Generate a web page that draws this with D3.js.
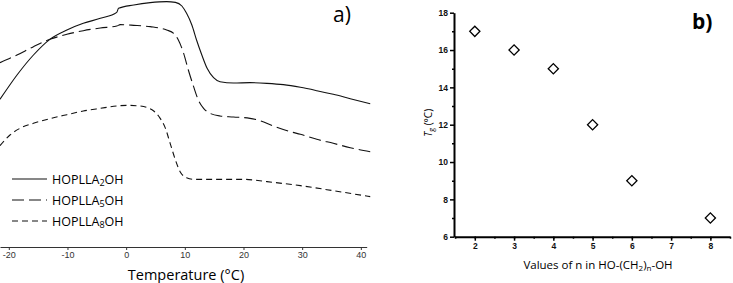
<!DOCTYPE html>
<html>
<head>
<meta charset="utf-8">
<script src="https://cdn.jsdelivr.net/npm/d3@7"></script>
<style>
  body { margin: 0; background: #fff; }
  svg { display: block; font-family: "Open Sans", sans-serif; }
</style>
</head>
<body>
<div id="chart"></div>
<script>
// Panel a: DSC traces (temperature in °C, heat flow in arbitrary units)
const tempA2 = [-21.5, -18.6, -15.8, -13.0, -10.1, -7.3, -4.4, -1.6, -1.3, 1.3, 4.1, 6.9, 8.4, 9.5, 10.3, 11.2, 12.0, 12.9, 13.8, 14.9, 16.0, 18.3, 21.1, 24.0, 26.8, 29.7, 32.5, 35.3, 38.2, 41.6]
const flowA2 = [3.02, 3.75, 4.35, 4.82, 5.10, 5.30, 5.45, 5.63, 5.75, 5.85, 5.92, 5.95, 5.93, 5.82, 5.60, 5.25, 4.80, 4.35, 3.95, 3.67, 3.55, 3.51, 3.52, 3.50, 3.46, 3.38, 3.28, 3.17, 3.04, 2.89]

const tempA5 = [-21.5, -18.6, -15.8, -13.0, -10.1, -7.3, -4.4, -1.6, -1.0, 1.3, 4.1, 6.9, 8.1, 8.9, 9.8, 10.6, 11.5, 12.3, 13.2, 14.3, 16.0, 18.3, 21.1, 22.8, 25.1, 28.0, 29.7, 32.5, 35.3, 38.2, 41.6]
const flowA5 = [4.12, 4.35, 4.60, 4.82, 4.97, 5.08, 5.16, 5.22, 5.26, 5.24, 5.20, 5.10, 5.00, 4.80, 4.40, 3.90, 3.40, 3.00, 2.75, 2.60, 2.52, 2.49, 2.45, 2.38, 2.22, 2.05, 1.97, 1.82, 1.70, 1.57, 1.45]

const tempA8 = [-21.5, -19.8, -18.1, -15.8, -13.0, -10.1, -7.3, -4.4, -1.6, 0.1, 2.4, 3.5, 4.7, 5.8, 6.7, 7.5, 8.4, 9.2, 10.3, 11.5, 15.5, 20.0, 24.0, 29.7, 35.3, 41.6]
const flowA8 = [1.63, 1.95, 2.15, 2.30, 2.44, 2.56, 2.67, 2.75, 2.82, 2.84, 2.82, 2.78, 2.67, 2.45, 2.15, 1.70, 1.20, 0.85, 0.67, 0.62, 0.62, 0.62, 0.55, 0.43, 0.28, 0.10]

const seriesNames = ["HOPLLA", "OH"]
const seriesSubs = ["2", "5", "8"]
const tempTicks = [-20, -10, 0, 10, 20, 30, 40]

// Panel b: Tg versus n
const nValues = [2, 3, 4, 5, 6, 8]
const tgValues = [17, 16, 15, 12, 9, 7]
const nTicks = [2, 3, 4, 5, 6, 7, 8]
const tgTicks = [6, 8, 10, 12, 14, 16, 18]

const width = 733, height = 283
const svg = d3.select("#chart").append("svg")
  .attr("width", width)
  .attr("height", height)

// ---------- Panel a ----------
const xA = d3.scaleLinear().domain([-21.5, 41]).range([0, 366.7])
const yA = d3.scaleLinear().domain([0, 6]).range([200, 0])
const gA = svg.append("g")

const axisA = gA.append("g")
  .attr("transform", "translate(0,247)")
  .call(d3.axisBottom(xA).tickValues(tempTicks).tickSize(3).tickPadding(2).tickSizeOuter(0))
axisA.select(".domain").attr("stroke", "#333")
axisA.selectAll(".tick line").attr("stroke", "#333")
axisA.selectAll("text").attr("font-size", 9).attr("fill", "#333")
  .attr("font-family", "Liberation Sans, Arial, sans-serif")
  .text(d => d)

gA.append("text")
  .attr("x", xA(10.2)).attr("y", 280)
  .attr("text-anchor", "middle")
  .attr("font-size", 14.5)
  .text("Temperature (°C)")

gA.append("text")
  .attr("x", 333).attr("y", 22)
  .attr("font-size", 21)
  .text("a)")

const lineA = d3.line().x(d => xA(d[0])).y(d => yA(d[1])).curve(d3.curveMonotoneX)
const traces = [
  { t: tempA2, f: flowA2, dash: null },
  { t: tempA5, f: flowA5, dash: "12,5" },
  { t: tempA8, f: flowA8, dash: "6,4" }
]
gA.selectAll("path.trace")
  .data(traces)
  .join("path")
  .attr("class", "trace")
  .attr("d", d => lineA(d.t.map((t, i) => [t, d.f[i]])))
  .attr("fill", "none")
  .attr("stroke", "#111")
  .attr("stroke-width", 1.1)
  .attr("stroke-dasharray", d => d.dash)

// legend
const legend = gA.append("g")
traces.forEach((d, i) => {
  const y = 179 + i * 21
  legend.append("line")
    .attr("x1", 12).attr("x2", 47).attr("y1", y).attr("y2", y)
    .attr("stroke", "#111").attr("stroke-width", 1.1)
    .attr("stroke-dasharray", d.dash)
  const txt = legend.append("text")
    .attr("x", 52).attr("y", y + 5)
    .attr("font-size", 12.5)
  txt.append("tspan").text(seriesNames[0])
  txt.append("tspan").attr("font-size", 9).attr("dy", 1.5).text(seriesSubs[i])
  txt.append("tspan").attr("dy", -1.5).text(seriesNames[1])
})

// ---------- Panel b ----------
const xB = d3.scaleLinear().domain([1.47, 8.5]).range([454, 730])
const yB = d3.scaleLinear().domain([6, 18]).range([236.7, 12.7])
const gB = svg.append("g")

// minor ticks
gB.append("g")
  .attr("transform", `translate(0,${yB(6)})`)
  .call(d3.axisBottom(xB).tickValues(d3.range(1.5, 8.6, 0.5)).tickSize(2).tickFormat("").tickSizeOuter(0))
  .call(g => g.select(".domain").remove())
  .selectAll("line").attr("stroke-width", 1.5)
gB.append("g")
  .attr("transform", `translate(${xB(1.47)},0)`)
  .call(d3.axisLeft(yB).tickValues(d3.range(7, 18, 2)).tickSize(2).tickFormat("").tickSizeOuter(0))
  .call(g => g.select(".domain").remove())
  .selectAll("line").attr("stroke-width", 1.5)

const axB = gB.append("g")
  .attr("transform", `translate(0,${yB(6)})`)
  .call(d3.axisBottom(xB).tickValues(nTicks).tickFormat(d3.format("d")).tickSize(4).tickPadding(2).tickSizeOuter(0))
const ayB = gB.append("g")
  .attr("transform", `translate(${xB(1.47)},0)`)
  .call(d3.axisLeft(yB).tickValues(tgTicks).tickFormat(d3.format("d")).tickSize(4).tickPadding(2).tickSizeOuter(0))
;[axB, ayB].forEach(a => {
  a.select(".domain").attr("stroke-width", 2)
  a.selectAll(".tick line").attr("stroke-width", 1.5)
  a.selectAll("text")
    .attr("font-size", 8.5)
    .attr("font-weight", "bold")
    .attr("font-family", "Liberation Sans, Arial, sans-serif")
    .attr("fill", "#111")
})

gB.append("text")
  .attr("x", 598).attr("y", 269)
  .attr("text-anchor", "middle")
  .attr("font-size", 11.5)
  .call(t => {
    t.append("tspan").text("Values of n in HO-(CH")
    t.append("tspan").attr("font-size", 8).attr("dy", 2).text("2")
    t.append("tspan").attr("dy", -2).text(")")
    t.append("tspan").attr("font-size", 8).attr("dy", 2).text("n")
    t.append("tspan").attr("dy", -2).text("-OH")
  })

gB.append("text")
  .attr("transform", `translate(432,${yB(12.1)}) rotate(-90)`)
  .attr("text-anchor", "middle")
  .attr("font-size", 10)
  .call(t => {
    t.append("tspan").attr("font-style", "italic").text("T")
    t.append("tspan").attr("font-size", 7).attr("dy", 2).text("g")
    t.append("tspan").attr("dy", -2).text(" (°C)")
  })

gB.append("text")
  .attr("x", 692).attr("y", 29)
  .attr("font-size", 21)
  .attr("font-weight", "bold")
  .text("b)")

gB.selectAll("path.pt")
  .data(nValues.map((n, i) => [n, tgValues[i]]))
  .join("path")
  .attr("class", "pt")
  .attr("transform", d => `translate(${xB(d[0])},${yB(d[1])}) rotate(45)`)
  .attr("d", d3.symbol(d3.symbolSquare, 52))
  .attr("fill", "#fff")
  .attr("stroke", "#000")
  .attr("stroke-width", 1.3)
</script>
</body>
</html>
